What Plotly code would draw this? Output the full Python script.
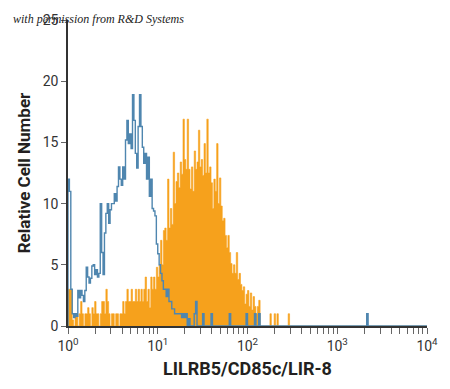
import plotly.graph_objects as go

# Histogram: 64 bins per decade from 10^0 to 10^4 (bin i spans 10^(i/64) .. 10^((i+1)/64))
bins_per_decade = 64
n_bins = 256

# Isotype control (blue outline), counts per bin, starting at bin 0
control_counts = [
    12, 11, 3, 1, 0.7, 1, 0.8, 2.9, 2.3, 2.9,
    2.5, 2.0, 2.9, 4.8, 4.0, 3.5, 3.9, 4.9, 5.0, 4.2,
    4.6, 4.0, 4.3, 10.0, 6.0, 4.2, 7.6, 9.2, 10.0, 8.4,
    9.5, 10.0, 10.0, 10.8, 10.2, 11.4, 13.0, 12.0, 11.5, 13.0,
    12.0, 15.2, 16.8, 14.9, 15.7, 14.5, 18.9, 16.8, 14.1, 12.9,
    16.3, 18.9, 16.3, 14.6, 13.3, 14.1, 12.0, 13.8, 10.6, 12.0,
    9.6, 9.4, 9.0, 6.7, 5.9, 5.0, 4.3, 3.7, 3.0, 3.0,
    2.4, 3.0, 2.0, 2.0, 1.4, 1.4, 1.0, 1.0, 1.0, 1.0,
    1.0, 0.7, 1.0, 0.7, 1.0, 0, 0.6, 0, 0, 0,
    1, 2, 0, 0, 0, 0, 1, 0, 0, 0,
    0, 0, 1, 0, 0, 0, 0, 0, 0, 0,
    0, 0, 0, 0, 0, 1, 0, 0, 0, 0,
    0, 0, 0, 0, 0, 0, 0, 1, 0, 0,
    0, 0, 0, 1, 0, 0, 1, 0, 0, 0,
]
# isolated event far right: (bin index, count)
control_extra = [(213, 1)]

# LILRB5 stained cells (orange filled), counts per bin, starting at bin 0
stained_counts = [
    3, 3, 3, 0.5, 0, 1, 1, 0, 1, 2,
    1, 0, 1, 1, 1.5, 1, 0, 1.5, 1, 2,
    1, 1, 0, 1, 2, 2, 1, 3, 2, 1,
    0, 1, 1, 0, 1, 1, 0, 1, 1, 2,
    1, 2, 3, 2, 2, 3, 2, 2, 3, 2,
    3, 2, 3, 2, 3, 4, 2, 3, 1.5, 4,
    3, 4, 3, 4.8, 4, 5, 7, 5, 7.8, 8,
    7, 12, 8, 9.6, 8.3, 14.2, 10, 11.8, 12.5, 11.3,
    13.4, 12.4, 16.9, 13.6, 12.8, 16.9, 12.8, 11.2, 13, 11,
    14.3, 12.8, 13.4, 16, 13, 13.6, 12.3, 14.9, 12.5, 16.9,
    12.5, 13, 11.7, 9.6, 12, 11, 14.9, 10, 12.1, 9.8,
    8.6, 8.8, 7.4, 6.4, 7.4, 6, 5.1, 4.3, 5, 4.3,
    6, 3.8, 4.3, 3.4, 2.9, 3.2, 1.8, 2.6, 2.9, 1.6,
    2.7, 1.3, 2.4, 1.6, 1, 1.6, 2.1, 0, 0, 0,
    0, 0, 0, 0, 1, 0, 0, 1, 0, 1,
    0, 0, 0, 0, 0, 0, 0, 1,
]

x_tick_labels = ["10<sup>0</sup>", "10<sup>1</sup>", "10<sup>2</sup>", "10<sup>3</sup>", "10<sup>4</sup>"]
y_tick_values = [0, 5, 10, 15, 20, 25]
x_title = "LILRB5/CD85c/LIR-8"
y_title = "Relative Cell Number"
credit = "with permission from R&D Systems"


def full(counts, extra=()):
    c = list(counts) + [0] * (n_bins - len(counts))
    for i, v in extra:
        c[i] = v
    return c


def steps(counts):
    xs, ys = [], []
    for i, v in enumerate(counts):
        xs.append(10 ** (i / bins_per_decade))
        ys.append(v)
    xs.append(10 ** (len(counts) / bins_per_decade))
    ys.append(counts[-1])
    return xs, ys


sx, sy = steps(full(stained_counts))
cx, cy = steps(full(control_counts, control_extra))
cx = [cx[0]] + cx
cy = [0] + cy

fig = go.Figure()
fig.add_trace(go.Scatter(
    x=sx, y=sy, mode="lines", line=dict(shape="hv", width=0.6, color="#F6A11C"),
    fill="tozeroy", fillcolor="#F6A11C", hoverinfo="skip", showlegend=False))
fig.add_trace(go.Scatter(
    x=cx, y=cy, mode="lines", line=dict(shape="hv", width=1.4, color="#4F86AF"),
    hoverinfo="skip", showlegend=False))

# tick positions: decades labelled, minor 2..9 unlabelled
tickvals, ticktext = [], []
for d in range(5):
    tickvals.append(10 ** d)
    ticktext.append(x_tick_labels[d])
    if d < 4:
        for m in range(2, 10):
            tickvals.append(m * 10 ** d)
            ticktext.append("")

font_main = "Liberation Sans Narrow, Roboto, Arial, sans-serif"

fig.update_layout(
    width=450, height=389,
    margin=dict(l=68, r=19, t=17, b=63),
    paper_bgcolor="white", plot_bgcolor="white",
    xaxis=dict(
        type="log", range=[0, 4], tickvals=tickvals, ticktext=ticktext,
        ticks="outside", ticklen=6, tickwidth=1, tickcolor="#666",
        showline=True, linecolor="#333", linewidth=1.5, showgrid=False, zeroline=False,
        tickfont=dict(family=font_main, size=14, color="#333"),
        title=dict(text=f"<b>{x_title}</b>", standoff=10,
                   font=dict(family=font_main, size=18, color="#231F20")),
    ),
    yaxis=dict(
        range=[0, 25], tickvals=y_tick_values,
        ticks="outside", ticklen=5, tickwidth=1, tickcolor="#666",
        showline=True, linecolor="#333", linewidth=1.5, showgrid=False, zeroline=False,
        tickfont=dict(family=font_main, size=14, color="#333"),
        title=dict(text=f"<b>{y_title}</b>", standoff=8,
                   font=dict(family=font_main, size=17, color="#231F20")),
    ),
    annotations=[dict(
        text=f"<i>{credit}</i>", x=10 / 450, y=1 - 16 / 389, xref="paper", yref="paper",
        xanchor="left", yanchor="middle", showarrow=False,
        font=dict(family="Liberation Serif, DejaVu Serif, serif", size=12, color="#222"),
    )],
)
# annotation in paper coords relative to whole figure: convert
fig.layout.annotations[0].update(xref="paper", yref="paper",
                                 x=(10 - 68) / (450 - 68 - 19),
                                 y=(389 - 63 - 16) / (389 - 17 - 63))

fig.write_html("out.html")
